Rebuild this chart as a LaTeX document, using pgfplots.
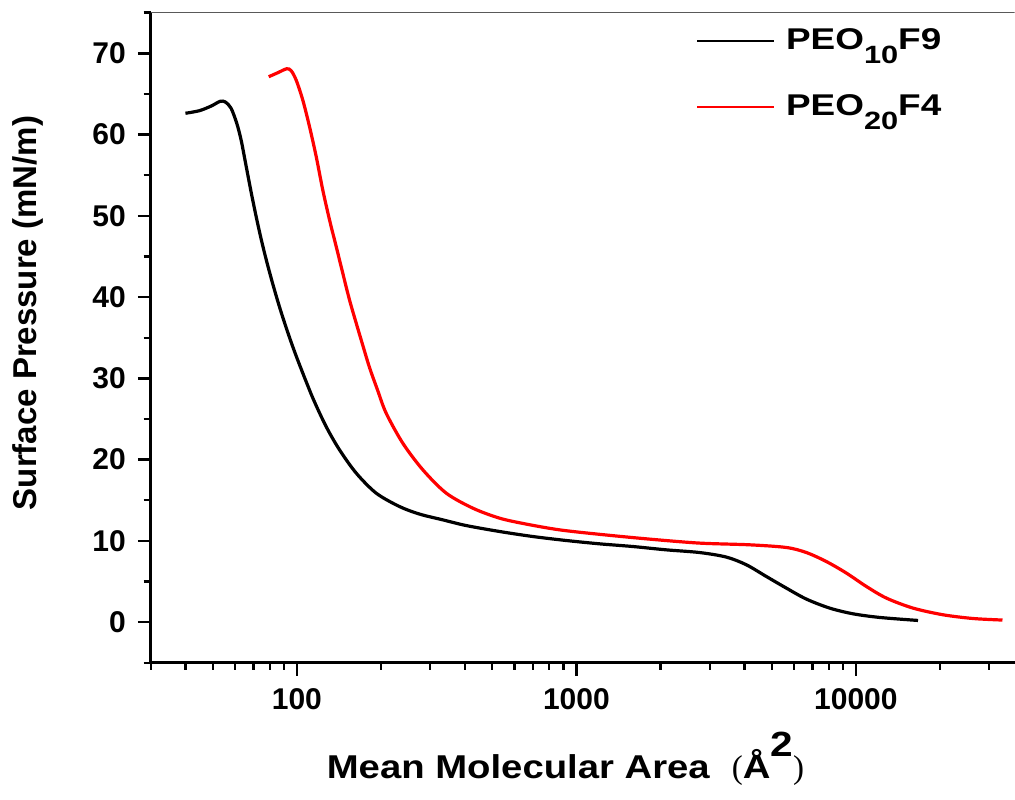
\documentclass[border=0pt]{standalone}
\usepackage{pgfplots}
\pgfplotsset{compat=1.18}
\usepackage{fontspec}
\setmainfont{Liberation Sans}
\newfontfamily\seriffont{Liberation Serif}
\newfontfamily\widelab[FakeStretch=1.16]{Liberation Sans}
\newfontfamily\widelegend[FakeStretch=1.23]{Liberation Sans}

\begin{document}
\begin{tikzpicture}
\begin{axis}[
  name=ax,
  xmode=log,
  scale only axis,
  width=432pt, height=325pt,
  xmin=30, xmax=37000,
  ymin=-5, ymax=75,
  axis x line*=bottom,
  axis y line*=left,
  axis line style={line width=1.4pt,-},
  tick align=outside,
  major tick length=6.5pt,
  minor tick length=3.5pt,
  major tick style={black,line width=1.2pt},
  minor tick style={black,line width=1.2pt},
  ytick={0,10,...,70},
  minor ytick={-5,5,...,75},
  xtick={100,1000,10000},
  minor xtick={30,40,50,60,70,80,90,200,300,400,500,600,700,800,900,2000,3000,4000,5000,6000,7000,8000,9000,20000,30000},
  log ticks with fixed point,
  /pgf/number format/1000 sep={},
  /pgf/number format/assume math mode=true,
  ticklabel style={font=\bfseries\fontsize{15}{15}\selectfont},
  yticklabel style={xshift=-2.5pt},
  xticklabel style={yshift=-3pt},
  xlabel={\widelab\bfseries Mean Molecular Area\hspace{11pt}{\seriffont\mdseries (}Å\raisebox{11pt}{\fontsize{17.5}{17.5}\selectfont 2}{\seriffont\mdseries )}},
  ylabel={Surface Pressure (mN/m)},
  label style={font=\bfseries\fontsize{16.5}{16.5}\selectfont},
  xlabel style={at={(ticklabel cs:0.48)}, yshift=-4pt},
  ylabel style={at={(axis description cs:-0.1166,0.538)}, anchor=south},
  legend style={draw=none, fill=none, at={(axis description cs:0.631,0.982)}, anchor=north west,
    font=\widelegend\bfseries\fontsize{15}{15}\selectfont, row sep=17pt, column sep=3.5pt, inner sep=0pt},
  legend cell align=left,
  legend image code/.code={\draw[mark repeat=2,mark phase=2,#1,line width=0.9pt] plot coordinates {(0pt,0pt) (38.5pt,0pt)};},
]
% PEO10F9
\addplot[black, line width=1.6pt, smooth, tension=0.5] coordinates {
(39.94,62.62) (44.81,62.94) (49.36,63.51) (53.15,64.09) (55.51,64.01) (58.19,63.23)
(60.95,61.39) (63.18,59.33) (65.84,56.13) (68.61,52.93) (71.51,49.92) (74.52,47.15)
(77.66,44.63) (81.99,41.62) (86.64,38.81) (91.55,36.25) (96.67,33.90) (102.2,31.68)
(114.0,27.59) (127.3,24.06) (142.1,21.20) (163.1,18.33) (192.2,15.87) (232.9,14.22)
(274.8,13.29) (332.9,12.58) (403.6,11.88) (531.0,11.15) (698.8,10.53) (920.2,10.04)
(1211,9.63) (1593,9.30) (2097,8.89) (2760,8.56) (3440,8.00) (4057,7.05) (4783,5.61)
(5640,4.18) (6650,2.83) (8058,1.72) (9763,1.02) (12170,0.57) (16684,0.20)
};
\addlegendentry{PEO\raisebox{-7pt}{\fontsize{12.5}{12.5}\selectfont 10}F9}
% PEO20F4
\addplot[red, line width=1.6pt, smooth, tension=0.5] coordinates {
(79.33,67.12) (85.43,67.61) (91.99,68.10) (95.41,67.86) (99.42,66.71) (105.0,64.25)
(111.0,60.97) (117.3,57.28) (123.8,53.18) (130.9,49.49) (138.3,46.21) (146.0,42.93)
(154.3,39.65) (163.1,36.78) (172.2,34.05) (181.9,31.35) (194.3,28.58) (208.7,25.71) (239.3,22.02)
(282.3,18.74) (342.3,15.87) (426.2,14.02) (531.0,12.79) (661.8,12.06) (870.9,11.35)
(1211,10.80) (1828,10.21) (2760,9.72) (4168,9.51) (5640,9.18) (6650,8.56) (7842,7.45)
(9248,6.03) (10904,4.38) (12859,2.95) (16010,1.72) (20497,0.90) (26253,0.44) (33451,0.25)
};
\addlegendentry{PEO\raisebox{-7pt}{\fontsize{12.5}{12.5}\selectfont 20}F4}
\draw[black!65, line width=0.7pt] (rel axis cs:0,1) -- (rel axis cs:1,1);
\end{axis}
\pgfresetboundingbox
\path (ax.south west) ++(-75.35pt,-68.15pt) rectangle ++(507.5pt,399.5pt);
\end{tikzpicture}
\end{document}
